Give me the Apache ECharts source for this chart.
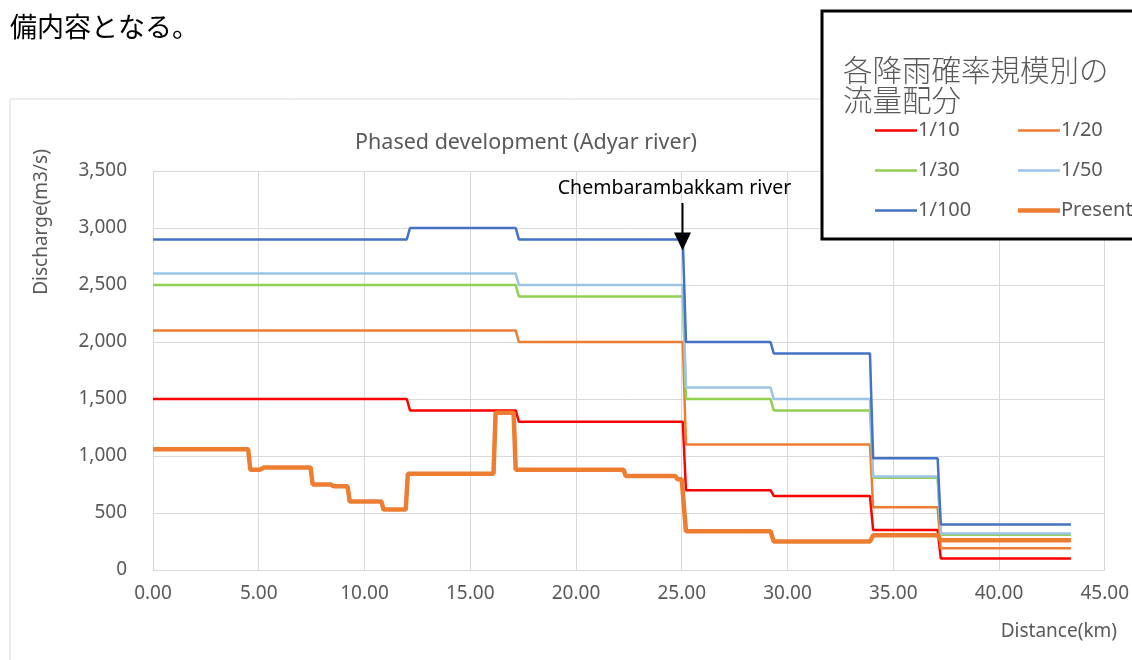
<!DOCTYPE html>
<html>
<head>
<meta charset="utf-8">
<script src="https://cdn.jsdelivr.net/npm/echarts@6/dist/echarts.min.js"></script>
<style>
html,body{margin:0;padding:0;background:#fff;}
#main{width:1132px;height:660px;}
</style>
</head>
<body>
<div id="main"></div>
<script>
// ---- data ----
const xTicks = [0, 5, 10, 15, 20, 25, 30, 35, 40, 45];
const yTicks = [0, 500, 1000, 1500, 2000, 2500, 3000, 3500];

const x100 = [0, 12.0, 12.15, 17.15, 17.3, 25.05, 25.2, 29.2, 29.35, 33.9, 34.05, 37.1, 37.25, 43.4];
const q100 = [2900, 2900, 3000, 3000, 2900, 2900, 2000, 2000, 1900, 1900, 980, 980, 400, 400];

const x50 = [0, 17.15, 17.3, 25.05, 25.2, 29.2, 29.35, 33.9, 34.05, 37.1, 37.25, 43.4];
const q50 = [2600, 2600, 2500, 2500, 1600, 1600, 1500, 1500, 820, 820, 320, 320];

const x30 = [0, 17.15, 17.3, 25.05, 25.2, 29.2, 29.35, 33.9, 34.05, 37.1, 37.25, 43.4];
const q30 = [2500, 2500, 2400, 2400, 1500, 1500, 1400, 1400, 810, 810, 310, 310];

const x20 = [0, 17.15, 17.3, 25.05, 25.2, 33.9, 34.05, 37.1, 37.25, 43.4];
const q20 = [2100, 2100, 2000, 2000, 1100, 1100, 550, 550, 190, 190];

const x10 = [0, 12.0, 12.15, 17.15, 17.3, 25.05, 25.2, 29.2, 29.35, 33.9, 34.05, 37.1, 37.25, 43.4];
const q10 = [1500, 1500, 1400, 1400, 1300, 1300, 700, 700, 650, 650, 350, 350, 100, 100];

const xPresent = [0, 4.5, 4.6, 5.05, 5.25, 7.45, 7.55, 8.4, 8.55, 9.2, 9.3, 10.8, 10.9, 11.95, 12.05, 16.1, 16.2, 17.05, 17.15, 22.25, 22.35, 24.7, 24.8, 25.0, 25.2, 29.2, 29.35, 33.9, 34.05, 37.1, 37.25, 43.4];
const qPresent = [1060, 1060, 880, 880, 900, 900, 750, 750, 735, 735, 600, 600, 530, 530, 845, 845, 1380, 1380, 880, 880, 825, 825, 795, 795, 340, 340, 250, 250, 305, 305, 260, 260];

const seriesNames = ['1/10', '1/20', '1/30', '1/50', '1/100', 'Present'];
const seriesColors = ['#FF0000', '#ED7D31', '#92D050', '#9DC3E6', '#4472C4', '#ED7D31'];
const seriesWidths = [2.5, 2.5, 2.5, 2.5, 2.5, 4.5];

const chartTitle = 'Phased development (Adyar river)';
const yName = 'Discharge(m3/s)';
const xName = 'Distance(km)';
const topText = '備内容となる。';
const legendTitle = '各降雨確率規模別の\n流量配分';
const annotationText = 'Chembarambakkam river';
const annotationX = 25.05;
const annotationY = 2900;

// ---- build ----
function pairs(xs, ys) { return xs.map((x, i) => [x, ys[i]]); }
const allData = [pairs(x10, q10), pairs(x20, q20), pairs(x30, q30), pairs(x50, q50), pairs(x100, q100), pairs(xPresent, qPresent)];

const FONT = '"Noto Sans", sans-serif';
const GREY = '#595959';

// legend line icon: invisible anchor keeps a 42x10 box, bar of given thickness centred in it
function lineIcon(w) {
  const a = (5 - w / 2).toFixed(2), b = (5 + w / 2).toFixed(2);
  return 'path://M0,0L0,10Z M0,' + a + 'H42V' + b + 'H0Z';
}
function legendItems(names) {
  return names.map(n => {
    const i = seriesNames.indexOf(n);
    return {name: n, icon: lineIcon(seriesWidths[i])};
  });
}

const chart = echarts.init(document.getElementById('main'), null, {renderer: 'canvas'});

const legendCommon = {
  orient: 'vertical', top: 115, itemWidth: 42, itemHeight: 10, itemGap: 19, z: 120,
  itemStyle: {borderWidth: 0},
  textStyle: {color: GREY, fontFamily: FONT, fontSize: 20, lineHeight: 21, padding: [0, 0, 0, -4]}
};

const option = {
  animation: false,
  backgroundColor: '#fff',
  grid: {left: 153, right: 24, top: 171, bottom: 90},
  xAxis: {
    type: 'value', min: 0, max: 45, interval: 5,
    axisLine: {show: true, lineStyle: {color: '#D9D9D9', width: 1}},
    axisTick: {show: false},
    splitLine: {show: true, lineStyle: {color: '#D9D9D9', width: 1}},
    axisLabel: {color: GREY, fontFamily: FONT, fontSize: 19, margin: 14,
      formatter: v => v.toFixed(2)}
  },
  yAxis: {
    type: 'value', min: 0, max: 3500, interval: 500,
    axisLine: {show: true, lineStyle: {color: '#D9D9D9', width: 1}},
    axisTick: {show: false},
    splitLine: {show: true, lineStyle: {color: '#D9D9D9', width: 1}},
    axisLabel: {color: GREY, fontFamily: FONT, fontSize: 19, margin: 26,
      formatter: v => v.toLocaleString('en-US')}
  },
  legend: [
    Object.assign({data: legendItems(['1/10', '1/30', '1/100']), left: 870}, legendCommon),
    Object.assign({data: legendItems(['1/20', '1/50', 'Present']), left: 1013}, legendCommon)
  ],
  series: seriesNames.map((n, i) => ({
    name: n, type: 'line', data: allData[i], symbol: 'none', showSymbol: false,
    lineStyle: {color: seriesColors[i], width: seriesWidths[i]},
    itemStyle: {color: seriesColors[i]},
    z: 2 + i
  })),
  graphic: [
    {type: 'rect', shape: {x: 10, y: 99, width: 1300, height: 800}, z: -10, silent: true,
     style: {fill: 'none', stroke: '#D9D9D9', lineWidth: 1}},
    {type: 'text', left: 10, top: 13, z: 100,
     style: {text: topText, fill: '#000', font: '27px "Noto Sans CJK JP"'}},
    {type: 'text', x: 526, y: 143, z: 100,
     style: {text: chartTitle, fill: GREY, font: '21.5px ' + FONT, align: 'center', verticalAlign: 'middle'}},
    {type: 'text', x: 42, y: 222, rotation: Math.PI / 2, z: 100,
     style: {text: yName, fill: GREY, font: '19px ' + FONT, align: 'center', verticalAlign: 'middle'}},
    {type: 'text', x: 1117, y: 632, z: 100,
     style: {text: xName, fill: GREY, font: '19px ' + FONT, align: 'right', verticalAlign: 'middle'}},
    {type: 'rect', shape: {x: 822, y: 11, width: 400, height: 228}, z: 110,
     style: {fill: '#fff', stroke: '#000', lineWidth: 3}},
    {type: 'text', x: 843, y: 55, z: 115,
     style: {text: legendTitle, fill: GREY, font: '300 29.5px "Noto Sans CJK JP"', lineHeight: 30, align: 'left', verticalAlign: 'top'}}
  ]
};
chart.setOption(option);

// annotation arrow anchored at data point
const p = chart.convertToPixel({gridIndex: 0}, [annotationX, annotationY]);
const ax = Math.round(p[0]) - 0.5;
const tipY = p[1] + 11;
chart.setOption({
  graphic: option.graphic.concat([
    {type: 'text', x: ax - 8, y: 188, z: 100,
     style: {text: annotationText, fill: '#000', font: '19.5px ' + FONT, align: 'center', verticalAlign: 'middle'}},
    {type: 'line', shape: {x1: ax, y1: 203, x2: ax, y2: tipY - 16}, z: 100,
     style: {stroke: '#000', lineWidth: 2}},
    {type: 'polygon', shape: {points: [[ax - 8.5, tipY - 18], [ax + 8.5, tipY - 18], [ax, tipY]]}, z: 100,
     style: {fill: '#000'}}
  ])
}, {replaceMerge: ['graphic']});
</script>
</body>
</html>
